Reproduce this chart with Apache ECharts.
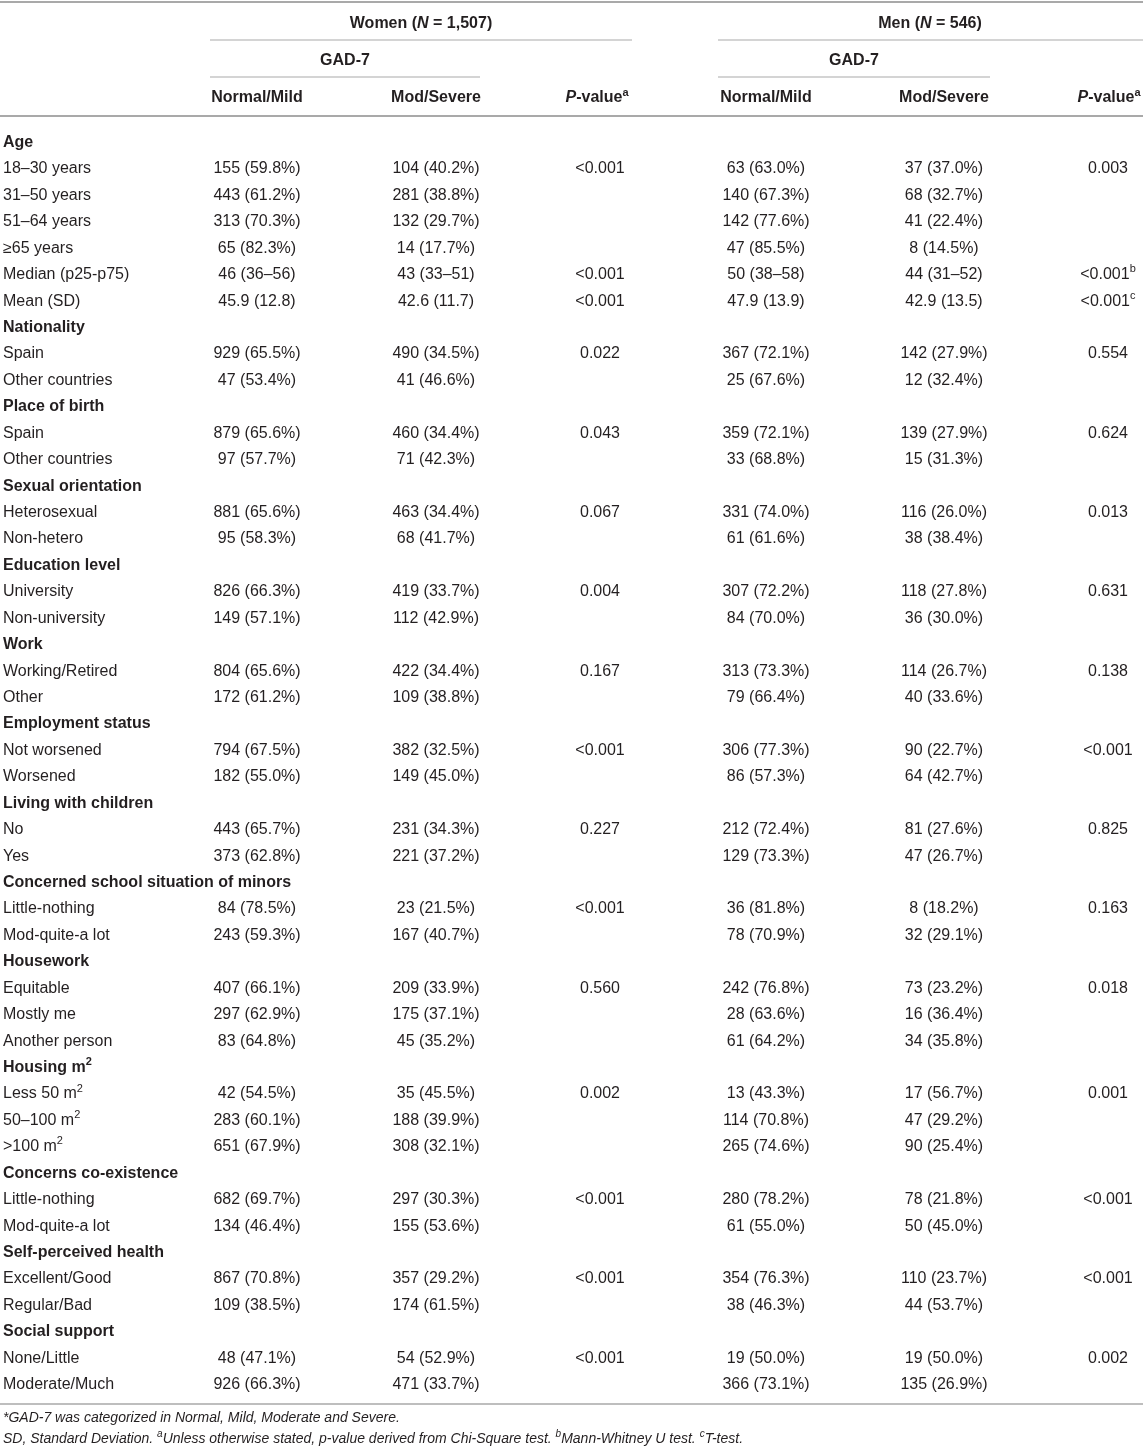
<!DOCTYPE html>
<html>
<head>
<meta charset="utf-8">
<title>GAD-7 by sex</title>
<script src="https://cdn.jsdelivr.net/npm/echarts@6/dist/echarts.min.js"></script>
<style>
  html, body { margin: 0; padding: 0; background: #fff; }
  #table { width: 1143px; height: 1451px; }
</style>
</head>
<body>
<div id="table"></div>
<script>
// row labels ('^x' marks a superscript)
var rowLabels = [
  'Age', '18–30 years', '31–50 years', '51–64 years', '≥65 years', 'Median (p25-p75)', 'Mean (SD)',
  'Nationality', 'Spain', 'Other countries',
  'Place of birth', 'Spain', 'Other countries',
  'Sexual orientation', 'Heterosexual', 'Non-hetero',
  'Education level', 'University', 'Non-university',
  'Work', 'Working/Retired', 'Other',
  'Employment status', 'Not worsened', 'Worsened',
  'Living with children', 'No', 'Yes',
  'Concerned school situation of minors', 'Little-nothing', 'Mod-quite-a lot',
  'Housework', 'Equitable', 'Mostly me', 'Another person',
  'Housing m^2', 'Less 50 m^2', '50–100 m^2', '>100 m^2',
  'Concerns co-existence', 'Little-nothing', 'Mod-quite-a lot',
  'Self-perceived health', 'Excellent/Good', 'Regular/Bad',
  'Social support', 'None/Little', 'Moderate/Much'
];

var womenNormal = [
  '', '155 (59.8%)', '443 (61.2%)', '313 (70.3%)', '65 (82.3%)', '46 (36–56)', '45.9 (12.8)',
  '', '929 (65.5%)', '47 (53.4%)',
  '', '879 (65.6%)', '97 (57.7%)',
  '', '881 (65.6%)', '95 (58.3%)',
  '', '826 (66.3%)', '149 (57.1%)',
  '', '804 (65.6%)', '172 (61.2%)',
  '', '794 (67.5%)', '182 (55.0%)',
  '', '443 (65.7%)', '373 (62.8%)',
  '', '84 (78.5%)', '243 (59.3%)',
  '', '407 (66.1%)', '297 (62.9%)', '83 (64.8%)',
  '', '42 (54.5%)', '283 (60.1%)', '651 (67.9%)',
  '', '682 (69.7%)', '134 (46.4%)',
  '', '867 (70.8%)', '109 (38.5%)',
  '', '48 (47.1%)', '926 (66.3%)'
];

var womenSevere = [
  '', '104 (40.2%)', '281 (38.8%)', '132 (29.7%)', '14 (17.7%)', '43 (33–51)', '42.6 (11.7)',
  '', '490 (34.5%)', '41 (46.6%)',
  '', '460 (34.4%)', '71 (42.3%)',
  '', '463 (34.4%)', '68 (41.7%)',
  '', '419 (33.7%)', '112 (42.9%)',
  '', '422 (34.4%)', '109 (38.8%)',
  '', '382 (32.5%)', '149 (45.0%)',
  '', '231 (34.3%)', '221 (37.2%)',
  '', '23 (21.5%)', '167 (40.7%)',
  '', '209 (33.9%)', '175 (37.1%)', '45 (35.2%)',
  '', '35 (45.5%)', '188 (39.9%)', '308 (32.1%)',
  '', '297 (30.3%)', '155 (53.6%)',
  '', '357 (29.2%)', '174 (61.5%)',
  '', '54 (52.9%)', '471 (33.7%)'
];

var womenP = [
  '', '<0.001', '', '', '', '<0.001', '<0.001',
  '', '0.022', '',
  '', '0.043', '',
  '', '0.067', '',
  '', '0.004', '',
  '', '0.167', '',
  '', '<0.001', '',
  '', '0.227', '',
  '', '<0.001', '',
  '', '0.560', '', '',
  '', '0.002', '', '',
  '', '<0.001', '',
  '', '<0.001', '',
  '', '<0.001', ''
];

var menNormal = [
  '', '63 (63.0%)', '140 (67.3%)', '142 (77.6%)', '47 (85.5%)', '50 (38–58)', '47.9 (13.9)',
  '', '367 (72.1%)', '25 (67.6%)',
  '', '359 (72.1%)', '33 (68.8%)',
  '', '331 (74.0%)', '61 (61.6%)',
  '', '307 (72.2%)', '84 (70.0%)',
  '', '313 (73.3%)', '79 (66.4%)',
  '', '306 (77.3%)', '86 (57.3%)',
  '', '212 (72.4%)', '129 (73.3%)',
  '', '36 (81.8%)', '78 (70.9%)',
  '', '242 (76.8%)', '28 (63.6%)', '61 (64.2%)',
  '', '13 (43.3%)', '114 (70.8%)', '265 (74.6%)',
  '', '280 (78.2%)', '61 (55.0%)',
  '', '354 (76.3%)', '38 (46.3%)',
  '', '19 (50.0%)', '366 (73.1%)'
];

var menSevere = [
  '', '37 (37.0%)', '68 (32.7%)', '41 (22.4%)', '8 (14.5%)', '44 (31–52)', '42.9 (13.5)',
  '', '142 (27.9%)', '12 (32.4%)',
  '', '139 (27.9%)', '15 (31.3%)',
  '', '116 (26.0%)', '38 (38.4%)',
  '', '118 (27.8%)', '36 (30.0%)',
  '', '114 (26.7%)', '40 (33.6%)',
  '', '90 (22.7%)', '64 (42.7%)',
  '', '81 (27.6%)', '47 (26.7%)',
  '', '8 (18.2%)', '32 (29.1%)',
  '', '73 (23.2%)', '16 (36.4%)', '34 (35.8%)',
  '', '17 (56.7%)', '47 (29.2%)', '90 (25.4%)',
  '', '78 (21.8%)', '50 (45.0%)',
  '', '110 (23.7%)', '44 (53.7%)',
  '', '19 (50.0%)', '135 (26.9%)'
];

var menP = [
  '', '0.003', '', '', '', '<0.001^b', '<0.001^c',
  '', '0.554', '',
  '', '0.624', '',
  '', '0.013', '',
  '', '0.631', '',
  '', '0.138', '',
  '', '<0.001', '',
  '', '0.825', '',
  '', '0.163', '',
  '', '0.018', '', '',
  '', '0.001', '', '',
  '', '<0.001', '',
  '', '<0.001', '',
  '', '0.002', ''
];

var groupTitles = ['Women', 'Men'];
var groupN = ['1,507', '546'];
var subTitle = 'GAD-7';
var colTitles = ['Normal/Mild', 'Mod/Severe'];
var footnote1 = '*GAD-7 was categorized in Normal, Mild, Moderate and Severe.';
var footnote2 = 'SD, Standard Deviation. ^aUnless otherwise stated, p-value derived from Chi-Square test. ^bMann-Whitney U test. ^cT-test.';

// layout
var W = 1143, H = 1451;
var FONT = '"Liberation Sans", Arial, Helvetica, sans-serif';
var INK = '#231f20';
var RULE = '#a9a9a9';
var colX = [3, 257, 436, 600, 766, 944, 1108];
var rowTop = 129.3, rowH = 26.43;

var rich = {
  n: { fontFamily: FONT, fontSize: 16, color: INK, lineHeight: 22 },
  s: { fontFamily: FONT, fontSize: 11, color: INK, lineHeight: 12, verticalAlign: 'top' },
  b: { fontFamily: FONT, fontSize: 16, fontWeight: 'bold', color: INK, lineHeight: 22 },
  bs: { fontFamily: FONT, fontSize: 11, fontWeight: 'bold', color: INK, lineHeight: 12, verticalAlign: 'top' },
  bi: { fontFamily: FONT, fontSize: 16, fontWeight: 'bold', fontStyle: 'italic', color: INK, lineHeight: 22 },
  i: { fontFamily: FONT, fontSize: 14, fontStyle: 'italic', color: INK, lineHeight: 20 },
  is: { fontFamily: FONT, fontSize: 10, fontStyle: 'italic', color: INK, lineHeight: 11, verticalAlign: 'top' }
};

// 'abc^x' -> rich tokens
function toRich(str, main, sup) {
  return str.split(/\^(\w)/).map(function (part, k) {
    if (part === '') return '';
    return '{' + (k % 2 ? sup : main) + '|' + part + '}';
  }).join('');
}

function isHeading(i) {
  return womenNormal[i] === '';
}

function cellSeries(values, x, align) {
  var data = [];
  values.forEach(function (v, i) {
    if (v !== '') data.push({ value: [x, i], cell: v });
  });
  return {
    type: 'scatter',
    symbolSize: 1,
    itemStyle: { color: 'rgba(0,0,0,0)' },
    silent: true,
    data: data,
    label: {
      show: true,
      position: 'inside',
      align: align,
      verticalAlign: 'middle',
      opacity: 1,
      formatter: function (p) {
        var head = values === rowLabels && isHeading(p.value[1]);
        return head ? toRich(p.data.cell, 'b', 'bs') : toRich(p.data.cell, 'n', 's');
      },
      rich: rich
    }
  };
}

function hline(x1, x2, y, w) {
  return { type: 'line', silent: true, shape: { x1: x1, y1: y, x2: x2, y2: y }, style: { stroke: RULE, lineWidth: w } };
}

function text(x, y, str, align) {
  return {
    type: 'text', x: x, y: y, silent: true,
    style: { text: str, rich: rich, align: align, verticalAlign: 'middle', fill: INK, font: '16px ' + FONT }
  };
}

var chart = echarts.init(document.getElementById('table'), null, { renderer: 'canvas' });

var option = {
  animation: false,
  backgroundColor: '#fff',
  grid: { left: 0, right: 0, top: rowTop, height: rowH * rowLabels.length },
  xAxis: { type: 'value', min: 0, max: W, show: false },
  yAxis: {
    type: 'category', inverse: true, show: false,
    data: rowLabels.map(function (_, i) { return String(i); })
  },
  series: [
    cellSeries(rowLabels, colX[0], 'left'),
    cellSeries(womenNormal, colX[1], 'center'),
    cellSeries(womenSevere, colX[2], 'center'),
    cellSeries(womenP, colX[3], 'center'),
    cellSeries(menNormal, colX[4], 'center'),
    cellSeries(menSevere, colX[5], 'center'),
    cellSeries(menP, colX[6], 'center')
  ],
  graphic: [
    hline(0, W, 2, 2),
    hline(210, 632, 40, 1),
    hline(718, W, 40, 1),
    hline(210, 480, 77, 1),
    hline(718, 990, 77, 1),
    hline(0, W, 116, 2),
    hline(0, W, 1404, 1.5),
    text(421, 24, '{b|' + groupTitles[0] + ' (}{bi|N}{b| = ' + groupN[0] + ')}', 'center'),
    text(930, 24, '{b|' + groupTitles[1] + ' (}{bi|N}{b| = ' + groupN[1] + ')}', 'center'),
    text(345, 61, '{b|' + subTitle + '}', 'center'),
    text(854, 61, '{b|' + subTitle + '}', 'center'),
    text(colX[1], 98, '{b|' + colTitles[0] + '}', 'center'),
    text(colX[2], 98, '{b|' + colTitles[1] + '}', 'center'),
    text(597, 98, '{bi|P}{b|-value}{bs|a}', 'center'),
    text(colX[4], 98, '{b|' + colTitles[0] + '}', 'center'),
    text(colX[5], 98, '{b|' + colTitles[1] + '}', 'center'),
    text(1109, 98, '{bi|P}{b|-value}{bs|a}', 'center'),
    text(3, 1418, toRich(footnote1, 'i', 'is'), 'left'),
    text(3, 1439, toRich(footnote2, 'i', 'is'), 'left')
  ]
};

chart.setOption(option);
</script>
</body>
</html>
